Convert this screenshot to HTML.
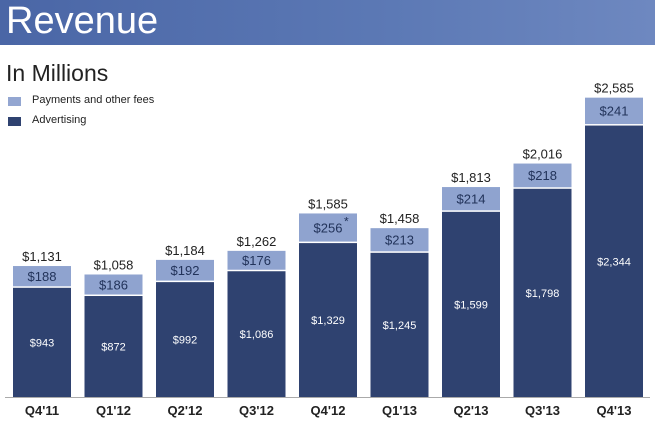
<!DOCTYPE html>
<html><head><meta charset="utf-8"><style>
body{margin:0;width:655px;height:424px;background:#fff;overflow:hidden;font-family:"Liberation Sans",sans-serif}
#hdr{position:absolute;left:0;top:0;width:655px;height:45px;background:linear-gradient(90deg,#4a66a6,#5c79b5 60%,#6e88c0)}
#hdr span{position:absolute;left:6px;top:-1px;color:#fff;font-size:38px;line-height:45px}
#sub{position:absolute;left:6px;top:60px;font-size:23px;color:#222}
.lg{position:absolute;left:8px;width:13px;height:9px}
.lt{position:absolute;left:32px;font-size:11px;color:#222}
</style></head><body>
<div id="hdr"><span>Revenue</span></div>
<div id="sub">In Millions</div>
<div class="lg" style="top:97px;background:#93a6d1"></div>
<div class="lt" style="top:94px">Payments and other fees</div>
<div class="lg" style="top:117px;background:#2f4270"></div>
<div class="lt" style="top:114px">Advertising</div>
<svg id="c" width="655" height="424" style="position:absolute;left:0;top:0"></svg>
<script>
const categories=["Q4'11","Q1'12","Q2'12","Q3'12","Q4'12","Q1'13","Q2'13","Q3'13","Q4'13"];
const advertising=[943,872,992,1086,1329,1245,1599,1798,2344];
const payments=[188,186,192,176,256,213,214,218,241];
const totals=[1131,1058,1184,1262,1585,1458,1813,2016,2585];
const NS="http://www.w3.org/2000/svg",svg=document.getElementById('c');
const base=397,k=0.1158,x0=13,step=71.5,bw=58;
const y=v=>base-v*k, xb=i=>x0+i*step;
const fmt=v=>'$'+v.toLocaleString('en-US');
function mk(t,a){const e=document.createElementNS(NS,t);for(const p in a)e.setAttribute(p,a[p]);svg.appendChild(e);return e;}
const ax=mk('line',{x1:5,x2:650,y1:base+0.5,y2:base+0.5,stroke:'#aaa','stroke-width':1});


categories.forEach((c,i)=>{
  const x=xb(i),a=advertising[i],p=payments[i],t=totals[i];
  const r1=mk('rect',{x:x,y:y(a),width:bw,height:a*k,fill:'#2f4270'});
  
  
  const r2=mk('rect',{x:x,y:y(a+p),width:bw,height:p*k-1.5,fill:'#8fa3cf'});
  
  
  const t1=mk('text',{x:x+bw/2,y:y(a/2)+4,'text-anchor':'middle',fill:'#fff','font-size':11});
  t1.textContent=fmt(a);
  
  
  const t2=mk('text',{x:x+bw/2,y:y(a+p/2)+4,'text-anchor':'middle',fill:'#22335a','font-size':13});
  t2.textContent=fmt(p);
  
  
  if(i===4){const s=mk('text',{x:x+bw/2+16,y:y(a+p/2)-3,'font-size':12,fill:'#22335a'});s.textContent='*';
    
    }
  const t3=mk('text',{x:x+bw/2,y:y(t)-5,'text-anchor':'middle',fill:'#222','font-size':13});
  t3.textContent=fmt(t);
  
  
  const t4=mk('text',{x:x+bw/2,y:415,'text-anchor':'middle',fill:'#222','font-size':13,'font-weight':'bold'});
  t4.textContent=c;
  
  
});
</script>
</body></html>
